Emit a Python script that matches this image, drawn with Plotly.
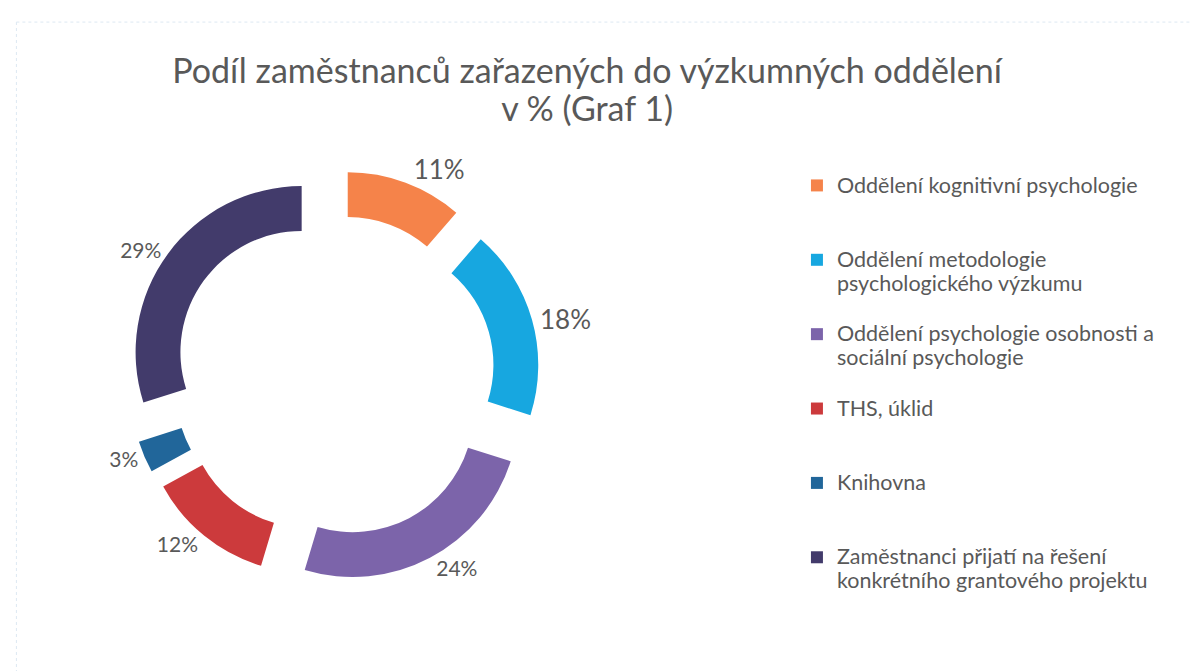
import plotly.graph_objects as go

# data (clockwise from 12 o'clock)
labels = [
    "Oddělení kognitivní psychologie",
    "Oddělení metodologie<br>psychologického výzkumu",
    "Oddělení psychologie osobnosti a<br>sociální psychologie",
    "THS, úklid",
    "Knihovna",
    "Zaměstnanci přijatí na řešení<br>konkrétního grantového projektu",
]
values = [11, 18, 24, 12, 3, 29]

colors = ["#F5834A", "#17A7E0", "#7C64AA", "#CC3A3C", "#21669A", "#423B6B"]
label_sizes = [26, 26, 21, 21, 21, 21]


def legend_text(text, n=3, size=21.5):
    # every entry gets the same number of lines so the spacing is even
    k = text.count("<br>") + 1
    lines = text.split("<br>")
    body = "<br>".join(f'<span style="font-size:{size}px">{s}</span>' for s in lines)
    return body + "<br> " * (n - k)


fig = go.Figure()
fig.add_trace(go.Pie(
    labels=[legend_text(t) for t in labels],
    values=values,
    sort=False,
    direction="clockwise",
    rotation=0,
    hole=0.73,
    pull=0.24,
    marker=dict(colors=colors, line=dict(width=0)),
    texttemplate="%{value}%",
    textposition="outside",
    textfont=dict(size=label_sizes, color="#595959", family="Lato"),
    domain=dict(x=[0.1, 0.4435], y=[0.145, 0.759]),
    hoverinfo="value",
))

fig.update_layout(
    width=1199,
    height=671,
    margin=dict(l=0, r=0, t=0, b=0),
    paper_bgcolor="white",
    plot_bgcolor="white",
    font=dict(family="Lato", color="#595959"),
    title=dict(
        text='<span style="font-size:34px">Podíl zaměstnanců zařazených do výzkumných oddělení</span>'
             '<br><span style="font-size:34px">v % (Graf 1)</span>',
        x=0.483, xanchor="center",
        y=0.888, yanchor="middle",
        font=dict(size=29, color="#595959", family="Lato"),
    ),
    legend=dict(
        x=0.658, xanchor="left",
        y=0.763, yanchor="top",
        valign="top",
        font=dict(size=18.3, color="#595959", family="Lato"),
        itemwidth=30,
        bgcolor="rgba(0,0,0,0)",
    ),
    shapes=[
        dict(type="line", xref="paper", yref="paper", x0=0.007, x1=1, y0=0.979, y1=0.979,
             line=dict(color="#dde8f2", width=1, dash="dot")),
        dict(type="line", xref="paper", yref="paper", x0=0.007, x1=0.007, y0=0, y1=0.979,
             line=dict(color="#dde8f2", width=1, dash="dot")),
    ],
)

fig.write_html("out.html")
